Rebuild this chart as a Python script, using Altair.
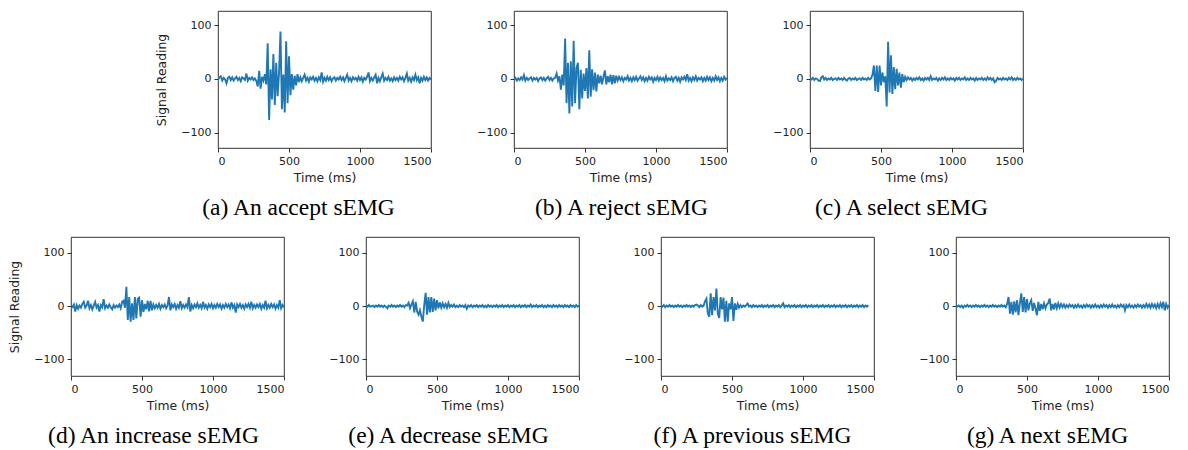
import altair as alt
import pandas as pd

SAMPLE_MS = 10  # one reading every 10 ms, 0..1500 ms

# ---- (a) accept ----
ACCEPT = [
    -2, 3, 5, -3, 2, -1, -8, 2, 4, -2, 3, -3, 1, 4, -2, 2, -4, 3, 1, -2, 10, -3, 2, -1, 3, -2, 1, -4, -14,
    15, -18, 4, -3, 9, -10, 66, -76, 18, -38, 46, -48, 30, -32, 12, 88, -56, 8, -62, 70,
    -45, 42, -30, 9, -20, 6, -12, 9, -6,
    3, -4, 2, 8, -3, 2, -5, 3, -1, 4, -3, 2, -4, 3, -2, 12, -5, 2, -3, 4, -2, 3, -4, 1, 3, -3,
    2, -1, 4, -2, 3, -4, 2, 8, -3, 2, -4, 3, -1, 2, -3, 4, -2, 3, -5, 2, -1, 4, 12, -4, 2, -3,
    3, 8, -8, 2, -4, 3, 10, -3, 2, -2, 4, -3, 1, -4, 3, -2, 2, -3, 4, -1, 3, -4, 2, 10, -3, 2,
    -5, 3, -2, 8, -2, 3, -8, 2, -3, 4, -2, 3, -3, 2, -1,
]

# ---- (b) reject ----
REJECT = [
    -2, 2, -3, 1, -2, 3, -1, 7, -3, 2, -2, 1, 3, -3, 2, -1, 2, -4, 1, 3, -2, 2, -3, 1, 4, -2, 2, -3, 1, 2, 10, -3,
    5, -20, 8, -12, 75, -45, 30, -64, 33, -51, 71, -45, 20, 30, -56, 17, -36, 10, -22, 20,
    -36, 53, -33, 18, -21, 12, -23, 8, -8, 6, -10, 4, 16, -10, 5, -6, 8, -10, 7, -8, 6,
    -3, 4, -2, 3, -4, 2, -1, 5, -3, 2, -4, 3, -2, 4, -3, 1, 5, -2, 3, -4, 2, -3, 4, -1, 3, -5,
    2, -2, 4, -3, 3, -2, 2, -4, 5, -3, 1, -2, 3, -4, 2, 4, -3, 2, -5, 3, -1, 4, -2, 9, -3, 2,
    -4, 3, -2, 5, -3, 2, -1, 3, -4, 2, -3, 4, -2, 3, -4, 2, -3, 5, -2, 3, -4, 2, -3, 4, -1, 2,
]

# ---- (c) select ----
SELECT = [
    1, -1, 2, -2, 1, 0, -3, -4, 3, 5, -1, 2, -2, 1, -1, 2, -2, 0, 1, -2, 2, -1, 1, -2, 2, -1,
    -3, 1, 2, -2, 1, -1, 2, -2, 0, 1, -2, 2, -1, 1, -2, 2, -1, 1,
    8, 25, -22, 25, -24, 25, -12, 12, -6, 5, -51, 69, -25, 44, -28, 22, -19, 19, -12, 12, -16, 9, -6, 4,
    -2, 3, -1, 2, -3, 1, -2, 2, -1, 3, -2, 1, -3, 2, -1, 2, -2, 5, -2, 1, -1, 2, -3, 1, -2, 2,
    -1, 3, -2, 1, -2, 2, -1, 1, -3, 2, -1, 2, -2, 1, -1, 3, -2, 1, -2, 2, -1, 1, -3, 2, -2, 1,
    -1, 2, -2, 1, -2, 3, -1, 2, -2, 1, -6, -4, 2, -1, 1, -2, 2, -1, 1, -2, 2, -1, 3, -2, 1, -2,
    2, -1, 1, -2, 1,
]

# ---- (d) increase ----
INCREASE = [
    -4, -2, 3, -10, 2, -5, 1, -3, 4, 8, -3, 1, 10, -4, 2, -6, 1, 8, -3, 2, -10, 2, -2, 13, -4,
    1, -3, 3, -2, -6, 2, -3, 1, -2, 3, -4,
    8, 10, -3, 36, -26, 17, -29, 5, -26, 17, -23, 14, 16, -20, 11, -11, 4, -6, 10, -10, 10, -8, 3, -4, 2,
    -3, 4, -5, 2, -2, 3, -4, 1, 17, -8, 3, -2, 4, -5, 2, -3, 9, -4, 2, -3, 3, -2, 17, -10, 2,
    -4, 3, -2, 5, -3, 2, -4, 8, -3, 2, -5, 3, -2, 4, -4, 2, -3, 4, -2, 3, -5, 2, -3, 4, -2,
    3, -4, 7, -3, 2, -12, 3, -2, 4, -3, 2, -5, 3, -2, 4, -3, 8, -4, 2, -3, 3, -2, 4, -5, 2,
    -3, 10, -4, 2, -3, 4, -2, 3, -5, 2, -3, 11, -4, 2, -2,
]

# ---- (e) decrease ----
DECREASE = [
    1, -1, 2, -1, 0, 1, -2, 1, -1, 2, -1, 1, -2, 1, -1, -4, 1, -1, 2, -1, 1, -2, 1, -1, 2, -1,
    1, -2, 2, 1,
    6, -4, 3, 9, -12, 8, -10, -16, -8, -20, -29, 2, 25, -16, 17, -12, 17, -11, 14, -8,
    11, -4, 7, -3, 5, -2, 4, -3, 6,
    -2, 2, -1, 3, -2, 1, -2, 2, -1, 1, -2, 2, -5, 1, -1, 2, -2, 1, -1, 2, -2, 1, -1, 2, -2, 1,
    -2, 2, -1, 1, -2, 1, -1, 2, -2, 1, -1, 2, -2, 1, -1, 2, -2, 1, -1, 2, -2, 1, -1, 2, -2, 1,
    -1, 2, -2, 1, -1, 3, -2, 1, -1, 2, -2, 1, -1, 2, -2, 1, -2, 2, -1, 1, -2, 2, -1, 1, -2, 2,
    -1, 1, -2, 2, -1, 1, -2, 2, -1, 1, -2, 2, -1, 1,
]

# ---- (f) previous ----
PREVIOUS = [
    1, -1, 2, -2, 1, -1, 2, -1, 1, -2, 1, -1, 2, -1, 1, -2, 1, -1, 2, -1, 1, -2, 1, -1, 2, 3,
    1, -2, 2, -1, 1,
    9, 14, -14, -20, 24, -17, 17, -8, 33, -14, -22, 17, -6, 16, -29, 10, -29, 5, -6, 17,
    -28, 5, -7, 4, -3,
    2, -2, 1, -1, 2, 5, -1, 1, -2, 2, -1, 1, -2, 1, -1, 2, -2, 1, -1, 2, -2, 1, -1, 2, -2, 1,
    -1, 2, -2, 1, 5, -2, 1, -1, 2, -2, 1, -1, 2, -2, 1, -1, 2, -2, 1, -1, 2, -2, 1, -1, 2, -2,
    1, -1, 2, -2, 1, -1, 2, -2, 1, -1, 2, -2, 1, -1, 2, -2, 1, -1, 2, -2, 1, -1, 2, -2, 1, -1,
    2, -2, 1, -1, 2, -2, 1, -1, 2, -2, 1, -1, 2,
]

# ---- (g) next ----
NEXT = [
    1, -1, 1, -2, 1, -3, 1, -1, 2, -1, 1, -2, 1, -1, 2, -1, 1, -2, 1, -1, 2, -1, 1, -2, 1, -1,
    2, -1, 1, -2, 1, -1, 2, -1, 1, -2,
    4, 17, -14, 8, -16, 9, -12, 11, -17, 6, 24, -11, 17, -12, 13, -8, 5, 11, -9, 6,
    -5, -17, 8, -9, 4, -6, 5, -4, 3, 6, 14, -8, 4, -6, 6, -4, 5, -3, 4,
    -2, 3, -3, 2, -2, 3, -1, 2, -3, 2, -2, 3, -2, 1, -3, 2, -2, 3, -1, 2, -3, 2, -2, 3, -2, 1,
    -3, 2, -2, 3, -1, 2, -3, 2, -2, 3, -2, 1, -3, 2, -2, 3, -1, 2, -8, 2, -2, 3, -2, 1,
    -3, 2, -2, 3, -1, 2, -3, 2, -2, 4, -2, 3, -3, 4, -2, 3, -4, 4, -3, 5, -2, 8, -8, 4, -3, 2,
]

CAPTIONS_TOP = ["(a) An accept sEMG", "(b) A reject sEMG", "(c) A select sEMG"]
CAPTIONS_BOTTOM = ["(d) An increase sEMG", "(e) A decrease sEMG", "(f) A previous sEMG", "(g) A next sEMG"]
X_TICKS = [0, 500, 1000, 1500]
Y_TICKS = [-100, 0, 100]

LINE_COLOR = "#1f77b4"
PANEL_W = 213


def panel(vals, caption, show_ytitle, dx, ydomain, height):
    df = pd.DataFrame({"t": [i * SAMPLE_MS for i in range(len(vals))], "v": vals})
    yaxis = alt.Axis(values=Y_TICKS, format="d", title="Signal Reading" if show_ytitle else None)
    return (
        alt.Chart(df)
        .mark_line(color=LINE_COLOR, strokeWidth=1.9, clip=True)
        .encode(
            x=alt.X("t:Q", scale=alt.Scale(domain=[0, 1500], nice=False, zero=False),
                    axis=alt.Axis(values=X_TICKS, format="d", title="Time (ms)")),
            y=alt.Y("v:Q", scale=alt.Scale(domain=ydomain, nice=False, zero=False), axis=yaxis),
        )
        .properties(width=PANEL_W, height=height,
                    title=alt.TitleParams(text=caption, dx=dx))
    )


spacer = (
    alt.Chart(pd.DataFrame({"v": [0]}))
    .mark_point(opacity=0)
    .encode(x=alt.value(0), y=alt.value(0))
    .properties(width=40, height=10, view=alt.ViewBackground(strokeOpacity=0))
)

TOP_DOMAIN = [-128, 126]
BOT_DOMAIN = [-131, 129.5]

a = panel(ACCEPT, CAPTIONS_TOP[0], True, -26, TOP_DOMAIN, 137)
b = panel(REJECT, CAPTIONS_TOP[1], False, 1, TOP_DOMAIN, 137)
c = panel(SELECT, CAPTIONS_TOP[2], False, -15, TOP_DOMAIN, 137)
d = panel(INCREASE, CAPTIONS_BOTTOM[0], True, -24, BOT_DOMAIN, 139)
e = panel(DECREASE, CAPTIONS_BOTTOM[1], False, -24, BOT_DOMAIN, 139)
f = panel(PREVIOUS, CAPTIONS_BOTTOM[2], False, -15, BOT_DOMAIN, 139)
g = panel(NEXT, CAPTIONS_BOTTOM[3], False, -15, BOT_DOMAIN, 139)

row1 = alt.hconcat(spacer, a, b, c, spacing=44)
row2 = alt.hconcat(d, e, f, g, spacing=43)

chart = (
    alt.vconcat(row1, row2, spacing=15)
    .properties(padding={"left": 0, "top": 0, "right": 0, "bottom": 0})
    .configure_view(stroke="#000", strokeWidth=0.8)
    .configure_axis(
        labelFont="DejaVu Sans", labelFontSize=11, labelColor="#222",
        titleFont="DejaVu Sans", titleFontSize=12.4, titleFontWeight="normal", titleColor="#222",
        tickColor="#000", tickSize=4, tickWidth=0.8, labelPadding=3, titlePadding=5,
        domain=False, grid=False,
    )
    .configure_axisY(titlePadding=12)
    .configure_title(font="Liberation Serif", fontSize=23.5, fontWeight="normal", color="#000",
                     orient="bottom", anchor="middle", frame="group", offset=13)
)

chart.save("out.html", embed_options={"renderer": "svg", "actions": False})
